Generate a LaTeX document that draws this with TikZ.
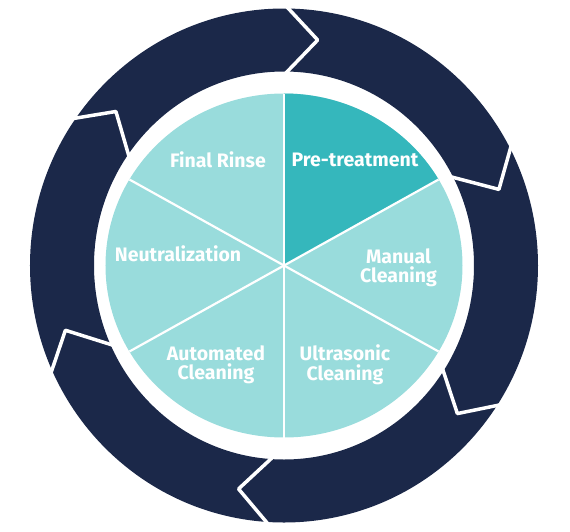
\documentclass[tikz,border=0pt]{standalone}
\usepackage{fontspec}
\setmainfont{Fira Sans}
\definecolor{ringblue}{HTML}{1B2849}
\definecolor{slicelight}{HTML}{99DCDC}
\definecolor{slicedark}{HTML}{35B7BC}

\begin{document}
\begin{tikzpicture}[x=1pt,y=1pt,
    cut/.style={white, line width=3.5pt, line join=round, shorten <=-5pt, shorten >=-5pt},
    spoke/.style={white, line width=2.2pt},
    lbl/.style={text=white, font=\fontsize{19.5}{19.5}\selectfont\bfseries, align=center, inner sep=0pt}]
\useasboundingbox (-284,-265.5) rectangle (286,265.5);
% ring of arrows
\fill[ringblue, even odd rule] (0,0) ellipse [x radius=254, y radius=257]
    (0,0) ellipse [x radius=190, y radius=194];
\draw[cut] (89:254 and 257) -- (81.5:228) -- (89:190 and 194);
\draw[cut] (27:254 and 257) -- (19.5:228) -- (27:190 and 194);
\draw[cut] (-33:254 and 257) -- (-40.5:228) -- (-33:190 and 194);
\draw[cut] (-94:254 and 257) -- (-101.5:228) -- (-94:190 and 194);
\draw[cut] (-156:254 and 257) -- (-163.5:228) -- (-156:190 and 194);
\draw[cut] (145:254 and 257) -- (137.5:228) -- (145:190 and 194);
% pie
\fill[slicelight] (0,0) ellipse [x radius=178.5, y radius=172];
\fill[slicedark] (0,0) -- (30:178.5 and 172)
    arc [start angle=30, end angle=90, x radius=178.5, y radius=172] -- cycle;
\draw[spoke] (30:178.5 and 172) -- (210:178.5 and 172);
\draw[spoke] (90:178.5 and 172) -- (270:178.5 and 172);
\draw[spoke] (150:178.5 and 172) -- (330:178.5 and 172);
% labels
\node[lbl] (pretreat) at (71,105.5) {Pre-treatment};
\node[lbl] (manual) at (114.5,-2.5) {Manual\\Cleaning};
\node[lbl] (ultra) at (61,-99.5) {Ultrasonic\\Cleaning};
\node[lbl] (auto) at (-68,-99.5) {Automated\\Cleaning};
\node[lbl] (neutral) at (-106,11.5) {Neutralization};
\node[lbl] (rinse) at (-66,105.5) {Final Rinse};
\end{tikzpicture}
\end{document}
